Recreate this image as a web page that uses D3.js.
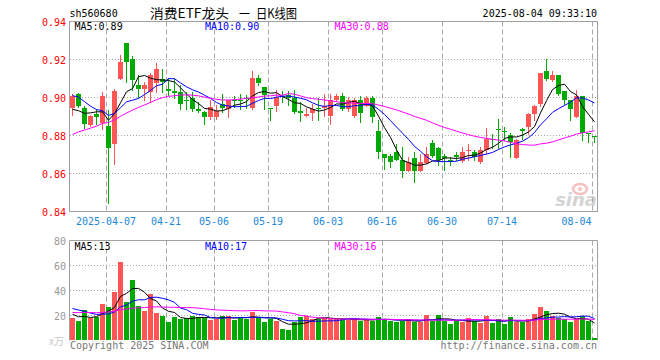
<!DOCTYPE html>
<html><head><meta charset="utf-8">
<script src="https://cdn.jsdelivr.net/npm/d3@7"></script>
<style>body{margin:0;background:#fff}svg{display:block}</style>
</head><body>
<svg id="chart" width="660" height="360"></svg>
<script>
// ---------- DATA ----------
const dates = ["2025-03-27","2025-03-28","2025-03-31","2025-04-01","2025-04-02","2025-04-03","2025-04-07","2025-04-08","2025-04-09","2025-04-10",
"2025-04-11","2025-04-14","2025-04-15","2025-04-16","2025-04-17","2025-04-18","2025-04-21","2025-04-22","2025-04-23","2025-04-24",
"2025-04-25","2025-04-28","2025-04-29","2025-04-30","2025-05-06","2025-05-07","2025-05-08","2025-05-09","2025-05-12","2025-05-13",
"2025-05-14","2025-05-15","2025-05-16","2025-05-19","2025-05-20","2025-05-21","2025-05-22","2025-05-23","2025-05-26","2025-05-27",
"2025-05-28","2025-05-29","2025-05-30","2025-06-03","2025-06-04","2025-06-05","2025-06-06","2025-06-09","2025-06-10","2025-06-11",
"2025-06-12","2025-06-13","2025-06-16","2025-06-17","2025-06-18","2025-06-19","2025-06-20","2025-06-23","2025-06-24","2025-06-25",
"2025-06-26","2025-06-27","2025-06-30","2025-07-01","2025-07-02","2025-07-03","2025-07-04","2025-07-07","2025-07-08","2025-07-09",
"2025-07-10","2025-07-11","2025-07-14","2025-07-15","2025-07-16","2025-07-17","2025-07-18","2025-07-21","2025-07-22","2025-07-23",
"2025-07-24","2025-07-25","2025-07-28","2025-07-29","2025-07-30","2025-07-31","2025-08-01","2025-08-04"];

const opens = [0.8947,0.9018,0.8947,0.8854,0.8912,0.8867,0.8849,0.8754,0.9095,0.9286,
0.9205,0.9065,0.9047,0.9030,0.9074,0.9096,0.9044,0.9033,0.9030,0.8989,
0.8995,0.8937,0.8923,0.8898,0.8898,0.8965,0.8942,0.8989,0.8986,0.8995,
0.8947,0.9100,0.9056,0.8946,0.8954,0.9007,0.9012,0.8995,0.8928,0.8905,
0.8916,0.8947,0.8947,0.8902,0.8986,0.9007,0.8937,0.8902,0.8986,0.8954,
0.8995,0.8823,0.8702,0.8691,0.8714,0.8670,0.8614,0.8682,0.8614,0.8656,
0.8763,0.8732,0.8691,0.8670,0.8695,0.8667,0.8719,0.8711,0.8661,0.8723,
0.8782,0.8835,0.8823,0.8802,0.8684,0.8832,0.8846,0.8911,0.8968,0.9139,
0.9091,0.9118,0.9035,0.8986,0.8898,0.9007,0.8814,0.8795];

const highs = [0.9018,0.9022,0.8956,0.8907,0.8942,0.9030,0.8933,0.9047,0.9223,0.9286,
0.9218,0.9118,0.9082,0.9130,0.9179,0.9149,0.9100,0.9100,0.9065,0.9030,
0.9030,0.8977,0.8930,0.8986,0.8960,0.9021,0.8989,0.9007,0.9018,0.9012,
0.9140,0.9121,0.9056,0.8946,0.9039,0.9035,0.9033,0.9042,0.8974,0.8947,
0.8968,0.8995,0.9018,0.9018,0.9018,0.9025,0.9000,0.8995,0.9007,0.9007,
0.9007,0.8884,0.8705,0.8705,0.8754,0.8740,0.8688,0.8714,0.8705,0.8740,
0.8775,0.8740,0.8705,0.8688,0.8714,0.8737,0.8754,0.8723,0.8740,0.8837,
0.8810,0.8886,0.8846,0.8814,0.8779,0.8837,0.8916,0.8960,0.9130,0.9200,
0.9140,0.9118,0.9035,0.8986,0.9039,0.9007,0.8814,0.8795];

const lows = [0.8907,0.8951,0.8840,0.8849,0.8863,0.8832,0.8446,0.8649,0.9095,0.9082,
0.9039,0.8995,0.8986,0.8977,0.9030,0.9030,0.9012,0.8995,0.8942,0.8942,
0.8930,0.8925,0.8863,0.8889,0.8889,0.8925,0.8898,0.8951,0.8942,0.8947,
0.8937,0.9065,0.8937,0.8881,0.8930,0.8977,0.8960,0.8919,0.8875,0.8902,
0.8884,0.8881,0.8902,0.8863,0.8983,0.8933,0.8930,0.8895,0.8872,0.8954,
0.8872,0.8679,0.8626,0.8635,0.8670,0.8579,0.8614,0.8556,0.8614,0.8653,
0.8688,0.8644,0.8621,0.8644,0.8670,0.8661,0.8670,0.8670,0.8653,0.8705,
0.8732,0.8732,0.8775,0.8688,0.8679,0.8779,0.8810,0.8881,0.8954,0.9091,
0.9088,0.9012,0.8965,0.8884,0.8898,0.8775,0.8767,0.8767];

const closes = [0.9007,0.8956,0.8860,0.8902,0.8898,0.9007,0.8735,0.9033,0.9188,0.9188,
0.9091,0.9047,0.9065,0.9118,0.9149,0.9082,0.9033,0.9026,0.8968,0.8982,
0.8937,0.8928,0.8898,0.8951,0.8930,0.8947,0.8986,0.8984,0.8981,0.8991,
0.9100,0.9074,0.9012,0.8937,0.9004,0.9000,0.8995,0.8925,0.8921,0.8912,
0.8942,0.8942,0.8954,0.8986,0.9007,0.8937,0.8986,0.8986,0.8916,0.8995,
0.8898,0.8714,0.8684,0.8661,0.8670,0.8614,0.8661,0.8614,0.8661,0.8702,
0.8691,0.8670,0.8681,0.8665,0.8688,0.8714,0.8726,0.8688,0.8723,0.8779,
0.8775,0.8828,0.8816,0.8767,0.8775,0.8825,0.8911,0.8954,0.9130,0.9095,
0.9118,0.9018,0.8989,0.8937,0.9007,0.8814,0.8810,0.8793];

// volume, 万手
const volumes = [18.1,15.7,24.3,18.4,19.0,29.1,26.7,38.9,62.9,30.9,
48.3,27.5,23.5,37.1,21.9,19.7,14.7,18.7,17.1,18.1,
19.5,18.9,18.4,16.3,17.6,19.7,19.7,16.5,18.4,17.3,
22.7,18.4,14.7,17.1,15.7,9.3,8.3,14.9,18.9,19.5,
17.6,17.6,18.1,17.0,17.0,17.0,16.5,16.5,16.0,17.0,
16.0,18.7,17.1,15.5,14.7,15.7,17.1,15.0,15.0,20.3,
15.7,20.3,15.7,13.6,15.5,14.7,17.9,15.5,13.9,19.5,
13.9,17.1,13.1,18.7,14.7,14.7,17.1,21.1,26.7,23.5,
19.5,18.4,17.1,15.0,17.0,20.0,16.0,2.0];

// estimated sessions before the visible window (only seed the moving averages, read from the MA lines' start)
const priorCloses = [0.853,0.857,0.861,0.858,0.856,0.860,
0.860,0.864,0.868,0.863,0.862,0.867,0.872,0.870,
0.878,0.884,0.890,0.888,0.895,0.899,
0.903,0.910,0.914,0.908,0.906,
0.899,0.893,0.889,0.887];
const priorVolumes = [18,22,19,24,21,17,20,23,19,25,22,18,21,20,24,19,22,20,21,21,
28,35,32,30,26,
25.7,23,22.7,15.5];

const priceTicks = [0.94,0.92,0.90,0.88,0.86,0.84];
const volTicks = [80,60,40,20];
const tickDates = ["2025-04-07","2025-04-21","2025-05-06","2025-05-19","2025-06-03","2025-06-16","2025-06-30","2025-07-14","2025-08-04"];
const tickLabels = ["2025-04-07","04-21","05-06","05-19","06-03","06-16","06-30","07-14","08-04"];
const maPeriods = [5,10,30];
const maColors = ["#000000","#0000ff","#ff00ff"];
const priceLegend = ["MA5:0.89","MA10:0.90","MA30:0.88"];
const volLegend = ["MA5:13","MA10:17","MA30:16"];
const titleParts = ["消费ETF龙头", "一", "日K线图"];
const codeText = "sh560680";
const timeText = "2025-08-04 09:33:10";

// ---------- DRAW ----------
const UP = "#ff5555", DOWN = "#00aa00", GRID = "#a8a8a8", FRAME = "#a0a0a0";
const MONO = "'DejaVu Sans Mono', 'Liberation Mono', monospace";
const CJK = "'Noto Sans CJK SC', sans-serif";
const svg = d3.select("#chart");
const L = 70, R = 597;
const x = d3.scaleBand().domain(dates).range([69.5, 597.5]);
const y = d3.scaleLinear().domain([0.84, 0.94]).range([211.5, 21.5]);
const yv = d3.scaleLinear().domain([0, 80]).range([340.5, 240.5]);
const cx = d => x(d) + 3;

const data = dates.map((d, i) => ({d, o: opens[i], h: highs[i], l: lows[i], c: closes[i], v: volumes[i]}));

function movingAvg(prior, vals, n) {
  const all = prior.concat(vals), off = prior.length;
  return vals.map((_, i) => d3.mean(all.slice(off + i - n + 1, off + i + 1)));
}

// header
svg.append("text").attr("x", 69.5).attr("y", 17).attr("font-family", MONO).attr("font-size", 10)
  .attr("fill", "#000").text(codeText);
const titleX = [150, 239, 256];
const titleW = [79, 11, 41];
titleParts.forEach((t, k) => svg.append("text").attr("x", titleX[k]).attr("y", 18).attr("font-family", CJK)
  .attr("font-size", 13).attr("fill", "#000").attr("textLength", titleW[k]).attr("lengthAdjust", "spacingAndGlyphs").text(t));
svg.append("text").attr("x", 597).attr("y", 17).attr("text-anchor", "end").attr("font-family", MONO)
  .attr("font-size", 10).attr("fill", "#000").text(timeText);

// gridlines price
const g = svg.append("g");
g.selectAll(".hg").data(priceTicks.filter(t => t > 0.84 && t < 0.94)).join("line")
  .attr("x1", L).attr("x2", R).attr("y1", d => y(d)).attr("y2", d => y(d))
  .attr("stroke", GRID).attr("stroke-dasharray", "1,2");
g.selectAll(".vg").data(tickDates).join("line")
  .attr("x1", d => x(d) + 1).attr("x2", d => x(d) + 1).attr("y1", 21.5).attr("y2", 211.5)
  .attr("stroke", GRID).attr("stroke-dasharray", "5,3");
// gridlines volume
g.selectAll(".hv").data(volTicks.filter(t => t < 80)).join("line")
  .attr("x1", L).attr("x2", R).attr("y1", d => yv(d)).attr("y2", d => yv(d))
  .attr("stroke", GRID).attr("stroke-dasharray", "1,2");
g.selectAll(".vv").data(tickDates).join("line")
  .attr("x1", d => x(d) + 1).attr("x2", d => x(d) + 1).attr("y1", 240.5).attr("y2", 340.5)
  .attr("stroke", GRID).attr("stroke-dasharray", "5,3");

// sina watermark
const wm = svg.append("g").attr("opacity", 0.5);
wm.append("ellipse").attr("cx", 580).attr("cy", 189).attr("rx", 7).attr("ry", 5).attr("fill", "none").attr("stroke", "#f08080").attr("stroke-width", 2.5);
wm.append("circle").attr("cx", 580).attr("cy", 189).attr("r", 2).attr("fill", "#f08080");
wm.append("text").attr("x", 597).attr("y", 206).attr("text-anchor", "end").attr("font-family", "'DejaVu Sans', sans-serif")
  .attr("font-size", 18).attr("font-weight", "bold").attr("font-style", "italic").attr("fill", "#aaa").text("sina");

// frames
svg.append("rect").attr("x", 69.5).attr("y", 21.5).attr("width", 528).attr("height", 190).attr("fill", "none").attr("stroke", FRAME);
svg.append("path").attr("d", "M69.5,340.5V240.5H597.5V340.5").attr("fill", "none").attr("stroke", FRAME);

// candles
const cg = svg.append("g");
const col = d => d.c >= d.o ? UP : DOWN;
cg.selectAll(".wick").data(data).join("line")
  .attr("x1", d => cx(d.d)).attr("x2", d => cx(d.d))
  .attr("y1", d => Math.round(y(d.h))).attr("y2", d => Math.round(y(d.l)) + 1)
  .attr("stroke", col);
cg.selectAll(".body").data(data).join("rect")
  .attr("x", d => x(d.d) + 0.5).attr("width", 5)
  .attr("y", d => Math.round(y(Math.max(d.o, d.c))))
  .attr("height", d => Math.max(1, Math.round(y(Math.min(d.o, d.c))) - Math.round(y(Math.max(d.o, d.c)))))
  .attr("fill", col);

// MA lines price
svg.append("clipPath").attr("id", "cp").append("rect").attr("x", 70).attr("y", 22).attr("width", 527).attr("height", 189);
maPeriods.forEach((n, k) => {
  const m = movingAvg(priorCloses, closes, n);
  svg.append("path").attr("clip-path", "url(#cp)")
    .attr("d", d3.line().x((_, i) => cx(dates[i])).y(v => y(v))(m))
    .attr("fill", "none").attr("stroke", maColors[k]).attr("stroke-width", 1);
});

// volume bars
svg.append("g").selectAll("rect").data(data).join("rect")
  .attr("x", d => x(d.d) + 0.5).attr("width", 5)
  .attr("y", d => Math.round(yv(d.v))).attr("height", d => 340 - Math.round(yv(d.v)))
  .attr("fill", col);
maPeriods.forEach((n, k) => {
  const m = movingAvg(priorVolumes, volumes, n);
  svg.append("path")
    .attr("d", d3.line().x((_, i) => cx(dates[i])).y(v => yv(v))(m))
    .attr("fill", "none").attr("stroke", maColors[k]).attr("stroke-width", 1);
});

// price axis labels
svg.selectAll(".pl").data(priceTicks).join("text")
  .attr("x", 66).attr("y", d => y(d) + 4).attr("text-anchor", "end")
  .attr("font-family", MONO).attr("font-size", 10).attr("fill", "#ff0000").text(d => d.toFixed(2));
// volume axis labels
svg.selectAll(".vl").data(volTicks).join("text")
  .attr("x", 66).attr("y", d => yv(d) + 4).attr("text-anchor", "end")
  .attr("font-family", MONO).attr("font-size", 10).attr("fill", "#999").text(d => d);
svg.append("text").attr("x", 64).attr("y", 345).attr("text-anchor", "end").attr("font-family", CJK)
  .attr("font-size", 10).attr("fill", "#c8c8c8").text("x万");

// date labels
svg.selectAll(".dl").data(tickDates).join("text")
  .attr("x", (d, i) => i === tickDates.length - 1 ? x(d) : x(d) + 0.5)
  .attr("y", 225)
  .attr("text-anchor", (d, i) => i === tickDates.length - 1 ? "end" : "middle")
  .attr("font-family", MONO).attr("font-size", 10).attr("fill", "#1e88d8")
  .text((d, i) => tickLabels[i]);

// legends
const legX = [74.5, 205, 334.5];
priceLegend.forEach((t, k) => svg.append("text").attr("x", legX[k]).attr("y", 30)
  .attr("font-family", MONO).attr("font-size", 10).attr("fill", maColors[k]).text(t));
volLegend.forEach((t, k) => svg.append("text").attr("x", legX[k]).attr("y", 250)
  .attr("font-family", MONO).attr("font-size", 10).attr("fill", maColors[k]).text(t));

// footer
svg.append("text").attr("x", 70).attr("y", 349).attr("font-family", MONO).attr("font-size", 10)
  .attr("fill", "#777").text("Copyright 2025 SINA.COM");
svg.append("text").attr("x", 597).attr("y", 349).attr("text-anchor", "end").attr("font-family", MONO).attr("font-size", 10)
  .attr("fill", "#777").text("http://finance.sina.com.cn");
</script>
</body></html>
